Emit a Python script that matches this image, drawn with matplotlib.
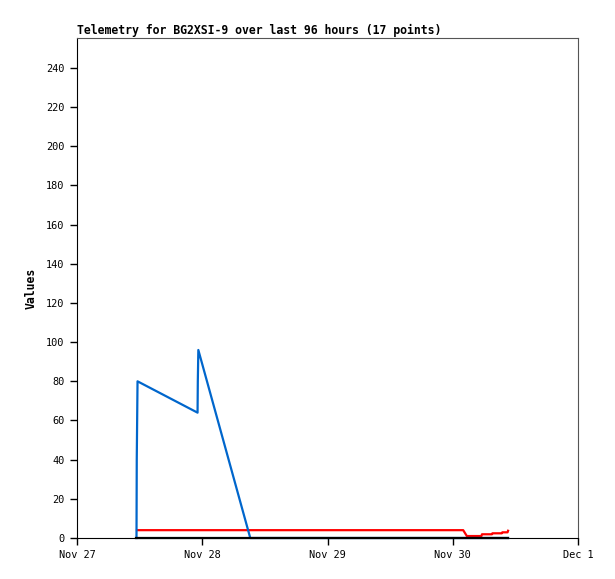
import numpy as np
import matplotlib.pyplot as plt

# hours since Nov 27 00:00
t_blue = [11.4, 11.45, 11.6, 23.1, 23.15, 23.25, 33.2, 82.6]
v_blue = [0, 40, 80, 64, 80, 96, 0, 0]

t_red = [11.5, 74.0, 74.7, 77.5, 77.6, 79.5, 79.6, 81.4, 81.5, 82.5, 82.6]
v_red = [4, 4, 1, 1, 1.9, 1.9, 2.4, 2.4, 2.9, 2.9, 3.7]

t_black = [11.4, 82.6]
v_black = [0, 0]

xticks = [0, 24, 48, 72, 96]
xlabels = ['Nov 27', 'Nov 28', 'Nov 29', 'Nov 30', 'Dec 1']
yticks = np.arange(0, 241, 20)

mono = 'DejaVu Sans Mono'

fig = plt.figure(figsize=(6.15, 5.79), dpi=100)
ax = fig.add_axes([77/615, 41/579, 501/615, 500/579])

ax.plot(t_red, v_red, color='#ff0000', linewidth=1.6, clip_on=False, zorder=3)
ax.plot(t_blue, v_blue, color='#0066cc', linewidth=1.6, clip_on=False, zorder=4)
ax.plot(t_black, v_black, color='black', linewidth=1.6, clip_on=False, zorder=5)

ax.set_xlim(0, 96)
ax.set_ylim(0, 255.3)
ax.set_xticks(xticks)
ax.set_xticklabels(xlabels, family=mono, fontsize=7.4)
ax.set_yticks(yticks)
ax.set_yticklabels([str(v) for v in yticks], family=mono, fontsize=7.4)
ax.tick_params(direction='out', length=5, width=1, pad=4)

for side in ('top', 'right'):
    ax.spines[side].set_color('#555555')
for side in ('left', 'bottom'):
    ax.spines[side].set_color('black')

ax.set_ylabel('Values', family=mono, fontsize=8.3, fontweight='bold', labelpad=6)
ax.set_title('Telemetry for BG2XSI-9 over last 96 hours (17 points)',
             loc='left', family=mono, fontsize=8.3, fontweight='bold', pad=3)

plt.savefig('out.png', dpi=100)
